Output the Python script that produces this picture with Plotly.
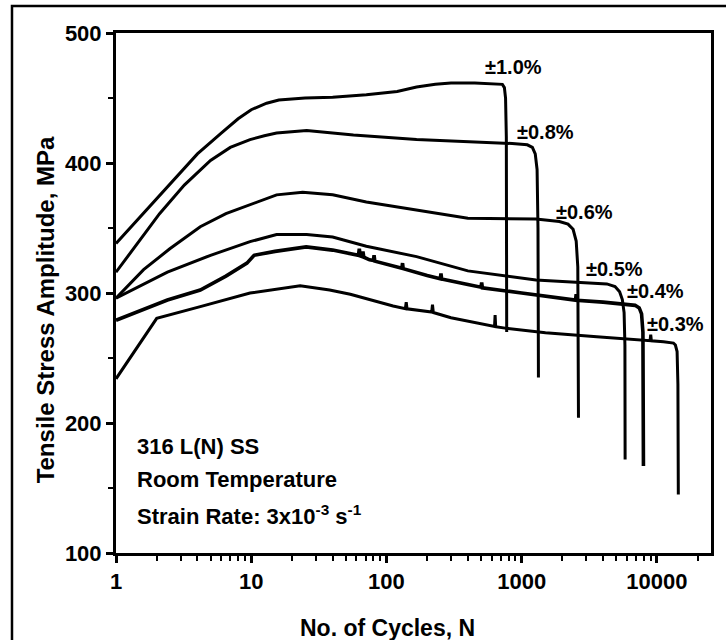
import plotly.graph_objects as go

# Cyclic stress response of 316 L(N) SS at room temperature
# (tensile stress amplitude vs. number of cycles, one curve per strain amplitude)

labels = ["±1.0%", "±0.8%", "±0.6%", "±0.5%", "±0.4%", "±0.3%"]

n_10 = [1, 1.9, 2.8, 4.0, 6.0, 8.0, 10, 13, 16, 25, 40, 71, 120, 167, 230, 300, 450, 650, 720, 745, 760, 770, 775]
s_10 = [338, 370, 389, 407, 423, 434, 441, 446, 448.5, 450, 450.5, 452.5, 455, 458.5, 460.5, 461.5, 461.5, 461, 460.5, 458, 450, 420, 270]

n_08 = [1, 2.1, 3.2, 5, 7, 9.8, 12.5, 15.4, 25.7, 57, 167, 400, 850, 1100, 1200, 1260, 1300, 1320, 1330]
s_08 = [316, 361, 383, 402, 412, 418, 421, 423, 425, 421.5, 418, 416.5, 415, 414, 412, 407, 395, 350, 235]

n_06 = [1, 1.6, 2.5, 4.2, 6.5, 9.8, 15.4, 24, 40, 71, 167, 400, 1275, 1900, 2200, 2400, 2530, 2600, 2630]
s_06 = [296, 318, 334, 351, 361, 368, 375.5, 377.5, 375.5, 370, 364, 357.5, 357, 355, 353, 349, 340, 320, 204]

n_05 = [1, 2.4, 5, 9.8, 15.4, 25.7, 40, 71, 167, 400, 1275, 2030, 4260, 4900, 5300, 5550, 5720, 5800, 5820]
s_05 = [296, 316, 329, 339.5, 345, 345, 343, 336, 328, 317, 310, 308.7, 307, 305, 301, 295, 285, 260, 172]

n_04 = [1, 2.4, 4.2, 6.5, 9.3, 10.5, 15, 25.5, 40, 54, 62, 63, 64, 66, 67, 68, 75, 80, 81, 82, 100,
        126, 130, 131.5, 133, 200, 250, 253, 256, 400, 500, 506, 512, 1000, 1275, 2030, 2500, 2530,
        2560, 4000, 5340, 6200, 6900, 7400, 7700, 7880, 7950]
s_04 = [279, 294.6, 302.3, 313, 323, 329, 332, 335.5, 333, 330.5, 329, 334, 328.5, 328, 332, 327.5, 325.5, 325, 329, 324.5, 322,
        319.6, 319, 323, 318.7, 313.5, 311, 315, 310.7, 306.5, 304.5, 308, 304, 300, 298.7, 296, 294.5, 299,
        294.3, 293, 292, 291.5, 290.5, 288.5, 284, 270, 167]

n_03 = [1, 2, 4.2, 9.8, 23, 38, 54, 80, 112, 138, 140, 142, 180, 216, 219, 222, 300, 500, 630, 636, 642,
        775, 1500, 3590, 6000, 8000, 8900, 9000, 9100, 11200, 12500, 13250, 13700, 14100, 14300, 14400]
s_03 = [234, 280.5, 289.5, 300, 305.5, 302.3, 299, 294, 290, 288, 293, 287.8, 286.5, 285.3, 291, 285, 281, 276, 274.3, 283, 274.1,
        272.8, 269.5, 266.4, 264.5, 263.6, 263.3, 268, 263.2, 262.5, 262, 261.5, 260, 255, 230, 145]

series = [(n_10, s_10), (n_08, s_08), (n_06, s_06), (n_05, s_05), (n_04, s_04), (n_03, s_03)]
widths = [3, 3, 3, 3, 3.6, 3]

x_major = [1, 10, 100, 1000, 10000]
x_minor = [m * d for d in (1, 10, 100, 1000, 10000) for m in range(2, 10) if m * d <= 25000]
y_major = [100, 200, 300, 400, 500]
y_minor = [150, 250, 350, 450]

FONT = "Liberation Sans, Arial, Helvetica, sans-serif"

fig = go.Figure()
for (n, s), name, w in zip(series, labels, widths):
    fig.add_trace(go.Scatter(x=n, y=s, mode="lines", name=name,
                             line=dict(color="black", width=w), showlegend=False))

# curve labels, placed at the end of each curve
label_pos = [(2.936, 473.8), (3.173, 423.8), (3.465, 362.5), (3.687, 318.5), (3.987, 301.2), (4.135, 275.8)]
for name, (lx, ly) in zip(labels, label_pos):
    fig.add_annotation(x=lx, y=ly, xref="x", yref="y", text=name, showarrow=False,
                       font=dict(family=FONT, size=20, color="black", weight="bold"),
                       xanchor="center", yanchor="middle")

# material / test condition notes
notes = ["316 L(N) SS", "Room Temperature", "Strain Rate: 3x10<sup>-3</sup> s<sup>-1</sup>"]
for txt, py in zip(notes, [0.2044, 0.1423, 0.0731]):
    fig.add_annotation(x=0.032, y=py, xref="paper", yref="paper", text=txt, showarrow=False,
                       font=dict(family=FONT, size=22, color="black", weight="bold"),
                       xanchor="left", yanchor="middle")

# axis titles
fig.add_annotation(x=0.457, y=-0.144, xref="paper", yref="paper", text="No. of Cycles, N",
                   showarrow=False, font=dict(family=FONT, size=23, color="black", weight="bold"),
                   xanchor="center", yanchor="middle")
fig.add_annotation(x=-0.119, y=0.467, xref="paper", yref="paper", text="Tensile Stress Amplitude, MPa",
                   textangle=-90, showarrow=False,
                   font=dict(family=FONT, size=24, color="black", weight="bold"),
                   xanchor="center", yanchor="middle")

# outer frame around the figure
fig.add_shape(type="rect", xref="paper", yref="paper", x0=-0.1748, x1=1.06, y0=-0.25, y1=1.052,
              line=dict(color="black", width=2.5), fillcolor="rgba(0,0,0,0)", layer="above")

tickfont = dict(family=FONT, size=22, color="black", weight="bold")
fig.update_xaxes(type="log", range=[0, 4.40], tickvals=x_major,
                 ticktext=[str(v) for v in x_major], tickfont=tickfont,
                 showline=True, linecolor="black", linewidth=3, mirror=True,
                 ticks="outside", ticklen=7, tickwidth=2.5, tickcolor="black",
                 minor=dict(tickvals=x_minor, ticks="outside", ticklen=5, tickwidth=2, tickcolor="black"),
                 showgrid=False, zeroline=False)
fig.update_yaxes(range=[100, 500], tickvals=y_major, tickfont=tickfont,
                 showline=True, linecolor="black", linewidth=3, mirror=True,
                 ticks="outside", ticklen=7, tickwidth=2.5, tickcolor="black",
                 minor=dict(tickvals=y_minor, ticks="outside", ticklen=5, tickwidth=2, tickcolor="black"),
                 showgrid=False, zeroline=False)

fig.update_layout(width=726, height=640, plot_bgcolor="white", paper_bgcolor="white",
                  margin=dict(l=116, r=15, t=33, b=87), showlegend=False)

fig.write_html("out.html")
